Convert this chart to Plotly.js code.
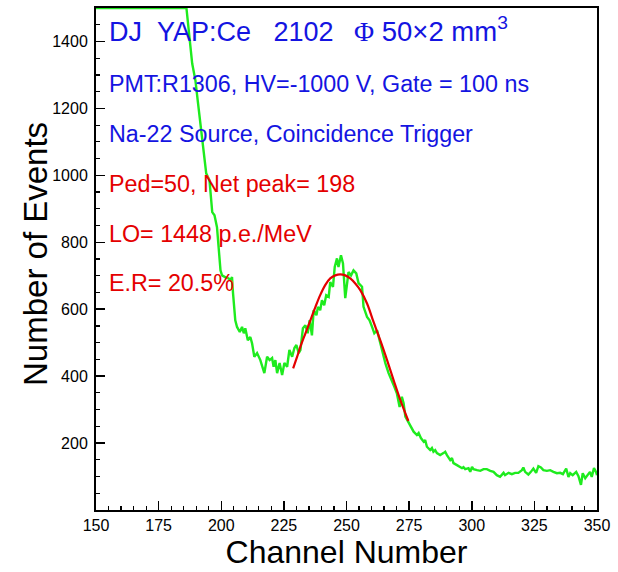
<!DOCTYPE html>
<html>
<head>
<meta charset="utf-8">
<script src="https://cdn.plot.ly/plotly-3.0.1.min.js"></script>
<style>html,body{margin:0;padding:0;background:#fff;}#chart{width:618px;height:572px;}</style>
</head>
<body>
<div id="chart"></div>
<script>
// Measured spectrum (channel, counts); values above 1500 are drawn clipped at the frame
const channel = [150,160,170,180,
186.1,188.4,189.7,190.6,192.1,194.0,195.3,196.0,196.4,197.3,
198.3,199.7,200.3,201.7,202.9,203.7,204.3,204.7,205.6,206.3,
207.4,208.3,209.0,209.6,210.6,211.6,212.3,213.2,214.3,215.6,
216.3,217.2,218.3,219.3,220.3,220.9,221.6,222.3,223.3,224.3,
225.2,226.3,227.2,228.3,229.2,230.0,230.9,231.6,232.6,233.6,
234.5,235.3,236.2,236.9,238.0,238.6,239.5,240.2,241.1,241.9,
242.9,243.5,244.6,245.3,246.2,246.8,247.8,248.6,249.5,250.2,
250.8,251.8,252.8,253.9,254.8,256.2,256.8,258.2,259.2,260.2,
261.1,262.2,263.2,264.2,265.5,266.8,268.1,269.1,270.1,271.2,
272.1,272.8,273.5,274.8,276.1,276.8,278.1,278.8,279.7,280.8,
281.4,282.1,283.4,284.1,284.7,285.4,286.1,287.4,288.7,289.4,
290.1,291.4,292.1,292.7,294.1,295.4,296.1,296.7,297.4,298.7,
299.4,300.1,300.7,302.1,303.4,304.7,306.0,307.4,308.7,310.0,
311.3,312.7,313.3,314.7,316.0,317.3,318.6,320.0,320.6,321.3,
322.6,323.6,324.6,325.7,326.6,327.6,328.6,330.0,331.3,332.6,
334.0,335.3,336.4,337.7,338.6,339.3,340.3,341.7,342.6,343.6,
344.3,345.3,346.2,347.2,347.9,348.8,349.6,350];
const counts = [1500,1500,1500,1500,
1500,1334,1283,1224,1134,1006,985,925,890,881,
845,716,701,695,692,687,696,648,567,547,
532,547,528,543,507,517,498,458,469,448,
433,409,458,448,454,428,448,409,439,403,
439,428,478,458,484,493,469,478,543,552,
528,567,522,597,582,607,597,627,612,642,
637,681,667,726,752,726,761,737,633,687,
711,701,716,707,678,667,607,577,567,547,
528,537,507,478,439,409,388,368,349,308,
338,319,279,260,245,234,224,230,215,204,
209,189,179,185,174,179,170,164,170,174,
164,149,155,140,134,129,125,128,122,125,
114,129,122,119,117,122,122,117,114,104,
99,111,104,111,107,111,111,119,127,114,
106,114,124,111,131,127,119,117,119,114,
110,111,107,124,99,110,104,114,101,75,
110,95,104,114,99,125,114,104];

// Gaussian fit curve as drawn
const fitChannel = [228.7,230.3,231.6,233.6,235.6,237.6,239.5,241.5,243.5,245.5,247.5,249.5,251.5,253.5,255.5,258.2,260.8,263.5,266.2,268.8,271.5,273.5,274.7];
const fitCounts  = [423,458,488,528,567,607,642,672,692,701,704,701,692,677,657,617,562,507,448,388,328,289,266];

const yTickVals = [200,400,600,800,1000,1200,1400];
const yTickText = ['200','400','600','800','1000','1200','1400'];

const blue = 'rgb(20,20,225)';
const red = 'rgb(228,0,0)';
const nb = '\u00A0';
const sans = 'Liberation Sans, Arial, sans-serif';

const traces = [
  {x: channel, y: counts, type: 'scatter', mode: 'lines',
   line: {color: 'rgb(30,235,30)', width: 2.4}, hoverinfo: 'none'},
  {x: fitChannel, y: fitCounts, type: 'scatter', mode: 'lines',
   line: {color: red, width: 2.2, shape: 'spline'}, hoverinfo: 'none'}
];

function px2x(px){ return (px-96)/501; }
function py2y(py){ return (510-py)/502; }

const annFont = (size, color) => ({family: sans, size: size, color: color});
const annotations = [
  {text: 'DJ' + nb+nb + 'YAP:Ce' + nb+nb+nb + '2102', x: px2x(107), y: py2y(32), size: 27, color: blue},
  {text: 'PMT:R1306, HV=-1000 V, Gate = 100 ns', x: px2x(107), y: py2y(84), size: 23.3, color: blue},
  {text: 'Na-22 Source, Coincidence Trigger', x: px2x(107), y: py2y(134), size: 23.3, color: blue},
  {text: 'Ped=50, Net peak= 198', x: px2x(107), y: py2y(184), size: 23.3, color: red},
  {text: 'LO= 1448 p.e./MeV', x: px2x(107), y: py2y(234), size: 23.3, color: red},
  {text: 'E.R= 20.5%', x: px2x(107), y: py2y(283), size: 23.3, color: red}
].map(a => ({text: a.text, x: a.x, y: a.y, xref: 'paper', yref: 'paper', xanchor: 'left', yanchor: 'middle',
  showarrow: false, font: annFont(a.size, a.color)}));
annotations.push({text: '<span style="font-family:Liberation Serif, Times New Roman, serif">\u03A6</span>' + nb + '50\u00D72 mm<sup>3</sup>',
  x: px2x(352), y: py2y(30), xref: 'paper', yref: 'paper', xanchor: 'left', yanchor: 'middle',
  showarrow: false, font: annFont(27.5, blue)});
// y-axis title
annotations.push({text: 'Number of Events', textangle: -90, x: px2x(35), y: py2y(254),
  xref: 'paper', yref: 'paper', xanchor: 'center', yanchor: 'middle', showarrow: false,
  font: annFont(33, '#000')});

const axisFont = {family: sans, size: 16, color: '#000'};
const layout = {
  width: 618, height: 572,
  margin: {l: 96, r: 21, t: 8, b: 62},
  paper_bgcolor: '#fff', plot_bgcolor: '#fff',
  showlegend: false,
  xaxis: {
    range: [150, 350], tick0: 150, dtick: 25,
    ticks: 'inside', ticklen: 9, tickwidth: 1.5, tickcolor: '#000',
    minor: {dtick: 5, tick0: 150, ticks: 'inside', ticklen: 4, tickwidth: 1.2, tickcolor: '#000'},
    showline: true, linecolor: '#000', linewidth: 2, mirror: true,
    showgrid: false, zeroline: false, tickfont: axisFont,
    layer: 'below traces',
    title: {text: 'Channel Number', font: {family: sans, size: 32, color: '#000'}, standoff: 4}
  },
  yaxis: {
    range: [0, 1500], tickmode: 'array', tickvals: yTickVals, ticktext: yTickText,
    ticks: 'inside', ticklen: 9, tickwidth: 1.5, tickcolor: '#000',
    minor: {dtick: 50, tick0: 0, ticks: 'inside', ticklen: 4, tickwidth: 1.2, tickcolor: '#000'},
    showline: true, linecolor: '#000', linewidth: 2, mirror: true,
    showgrid: false, zeroline: false, tickfont: axisFont,
    ticklabelstandoff: 3,
    layer: 'below traces'
  },
  annotations: annotations
};

Plotly.newPlot('chart', traces, layout, {staticPlot: true, displayModeBar: false});
</script>
</body>
</html>
